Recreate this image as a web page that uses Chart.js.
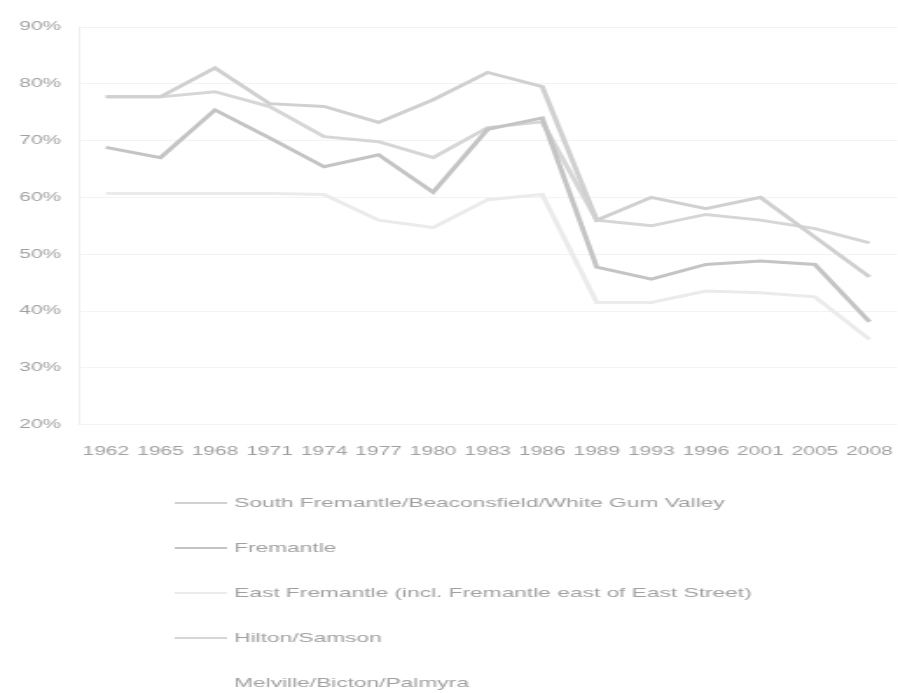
<!DOCTYPE html>
<html>
<head>
<meta charset="utf-8">
<script src="https://cdn.jsdelivr.net/npm/chart.js"></script>
<style>
  html, body { margin: 0; padding: 0; background: #fff; overflow: hidden; }
  /* the reference is stretched sideways, so draw narrow and scale on x */
  #wrap { width: 514px; height: 693px; transform: scaleX(1.7471); transform-origin: 0 0; }
</style>
</head>
<body>
<div id="wrap"><canvas id="lineChart" width="514" height="693"></canvas></div>
<script>
var years = ['1962','1965','1968','1971','1974','1977','1980','1983','1986','1989','1993','1996','2001','2005','2008'];

var southFremantle = [77.7, 77.7, 82.8, 76.5, 76.0, 73.2, 77.2, 82.0, 79.5, 56.0, 60.0, 58.0, 60.0, 53.0, 46.0];
var fremantle      = [68.8, 67.0, 75.4, 70.5, 65.4, 67.5, 60.9, 72.0, 74.0, 47.7, 45.6, 48.2, 48.8, 48.2, 38.1];
var eastFremantle  = [60.7, 60.7, 60.7, 60.7, 60.5, 56.0, 54.7, 59.6, 60.5, 41.5, 41.5, 43.5, 43.2, 42.5, 35.0];
var hiltonSamson   = [77.7, 77.7, 78.6, 76.0, 70.7, 69.8, 67.0, 72.3, 73.3, 56.0, 55.0, 57.0, 56.0, 54.5, 52.0];
var melville       = [null, null, null, null, null, null, null, null, null, null, null, null, null, null, null];

var seriesNames = [
  'South Fremantle/Beaconsfield/White Gum Valley',
  'Fremantle',
  'East Fremantle (incl. Fremantle east of East Street)',
  'Hilton/Samson',
  'Melville/Bicton/Palmyra'
];
var seriesColors = ['#d0d0d0', '#c4c4c4', '#ebebeb', '#d6d6d6', '#ffffff'];

var yMin = 20, yMax = 90, yStep = 10;

var fontFamily = '"Liberation Sans", Arial, sans-serif';
var textColor = '#a0a0a0';

// legend drawn as a stacked list under the axis
var legendLeft = 100, legendTop = 503, legendRow = 45;
var stackLegend = {
  id: 'stackLegend',
  afterDraw: function(chart){
    var ctx = chart.ctx;
    ctx.save();
    ctx.font = '13px ' + fontFamily;
    ctx.textBaseline = 'middle';
    ctx.textAlign = 'left';
    chart.data.datasets.forEach(function(ds, i){
      var y = legendTop + i * legendRow;
      ctx.strokeStyle = ds.borderColor;
      ctx.lineWidth = 2;
      ctx.beginPath();
      ctx.moveTo(legendLeft, y);
      ctx.lineTo(legendLeft + 30, y);
      ctx.stroke();
      ctx.fillStyle = textColor;
      ctx.fillText(ds.label, legendLeft + 34, y);
    });
    ctx.restore();
  }
};

function makeSet(i, data){
  return {
    label: seriesNames[i],
    data: data,
    borderColor: seriesColors[i],
    backgroundColor: seriesColors[i],
    borderWidth: 3,
    pointRadius: 0,
    tension: 0,
    fill: false
  };
}

var ctx = document.getElementById('lineChart').getContext('2d');
new Chart(ctx, {
  type: 'line',
  data: {
    labels: years,
    datasets: [
      makeSet(0, southFremantle),
      makeSet(1, fremantle),
      makeSet(2, eastFremantle),
      makeSet(3, hiltonSamson),
      makeSet(4, melville)
    ]
  },
  options: {
    responsive: false,
    animation: false,
    layout: { padding: { top: 27, right: 0, bottom: 231, left: 0 } },
    plugins: {
      legend: { display: false },
      tooltip: { enabled: false }
    },
    scales: {
      x: {
        offset: true,
        grid: { display: false, drawTicks: true, tickLength: 17 },
        border: { display: false },
        ticks: { color: textColor, padding: 3, maxRotation: 0, autoSkip: false,
                 font: { size: 12, family: fontFamily } }
      },
      y: {
        min: yMin,
        max: yMax,
        afterFit: function(scale){ scale.width = 45; },
        grid: { color: '#f3f3f3', drawTicks: false },
        border: { color: '#efefef' },
        ticks: { stepSize: yStep, color: textColor, padding: 10,
                 font: { size: 12, family: fontFamily },
                 callback: function(v){ return v + '%'; } }
      }
    }
  },
  plugins: [stackLegend]
});
</script>
</body>
</html>
